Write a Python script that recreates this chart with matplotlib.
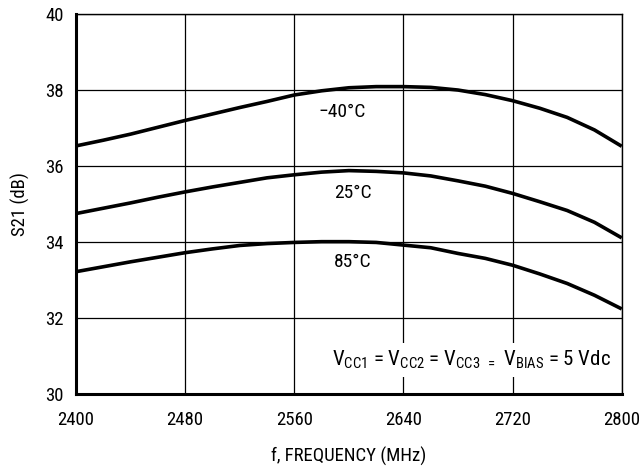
import numpy as np
import matplotlib.pyplot as plt

# S21 gain vs frequency for three temperatures
freq = [2400, 2420, 2440, 2460, 2480, 2500, 2520, 2540, 2560, 2580, 2600,
        2620, 2640, 2660, 2680, 2700, 2720, 2740, 2760, 2780, 2800]
s21_m40 = [36.53, 36.68, 36.84, 37.02, 37.20, 37.37, 37.54, 37.70, 37.87, 37.98, 38.06,
           38.09, 38.09, 38.07, 38.00, 37.88, 37.72, 37.52, 37.28, 36.95, 36.52]
s21_25 = [34.75, 34.89, 35.03, 35.18, 35.32, 35.45, 35.57, 35.69, 35.77, 35.84, 35.88,
          35.86, 35.82, 35.74, 35.61, 35.47, 35.28, 35.06, 34.83, 34.52, 34.11]
s21_85 = [33.22, 33.35, 33.48, 33.60, 33.72, 33.82, 33.91, 33.96, 33.99, 34.01, 34.01,
          33.99, 33.92, 33.85, 33.70, 33.57, 33.39, 33.16, 32.91, 32.60, 32.24]
temps = ['\u221240\u00b0C', '25\u00b0C', '85\u00b0C']
label_pos = [(2595, 37.42), (2603, 35.29), (2603, 33.47)]

fonts = ['Roboto Condensed', 'Liberation Sans Narrow', 'Liberation Sans', 'DejaVu Sans']
plt.rcParams['font.family'] = fonts
plt.rcParams['mathtext.fontset'] = 'custom'
plt.rcParams['mathtext.rm'] = fonts[0]
FS = 13.5

fig = plt.figure(figsize=(6.39, 4.68), dpi=100)
ax = fig.add_axes([0.119, 0.158, 0.854, 0.812])

for s in (s21_m40, s21_25, s21_85):
    ax.plot(freq, s, color='black', lw=2.6, solid_capstyle='butt')

for t, (x, y) in zip(temps, label_pos):
    ax.text(x, y, t, ha='center', va='center', fontsize=FS + 0.5)

ax.set_xlim(2400, 2800)
ax.set_ylim(30, 40)
ax.set_xticks(np.arange(2400, 2801, 80))
ax.set_yticks(np.arange(30, 41, 2))
ax.grid(True, color='black', lw=0.9)
ax.tick_params(length=0, labelsize=FS)
ax.tick_params(axis='x', pad=12)
ax.tick_params(axis='y', pad=9)
for side in ('left', 'bottom'):
    ax.spines[side].set_linewidth(2.2)
for side in ('top', 'right'):
    ax.spines[side].set_linewidth(1.0)

ax.set_xlabel('f, FREQUENCY (MHz)', fontsize=FS, labelpad=13)
ax.set_ylabel('S21 (dB)', fontsize=FS, labelpad=11)

note = (r'V$_{\mathregular{CC1}}$ = V$_{\mathregular{CC2}}$ = V$_{\mathregular{CC3}}$'
        r' $_{\mathregular{=}}$ V$_{\mathregular{BIAS}}$ = 5 Vdc')
ax.text(2792, 30.9, note, ha='right', va='center', fontsize=15,
        bbox=dict(facecolor='white', edgecolor='none', pad=4))

fig.savefig('out.png', dpi=100)
